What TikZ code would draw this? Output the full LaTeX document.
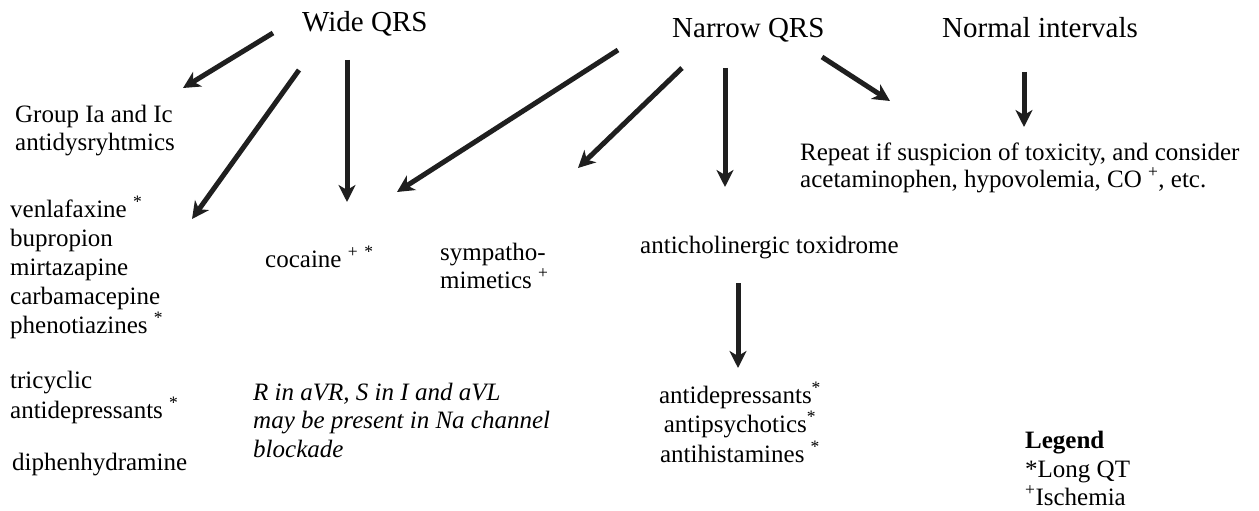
\documentclass[tikz,border=0pt]{standalone}
\usepackage{fontspec}
\setmainfont{Liberation Serif}
\usetikzlibrary{arrows.meta}
\newcommand{\lqt}{\textsuperscript{*}}
\newcommand{\isc}{\textsuperscript{+}}
\begin{document}
\begin{tikzpicture}[x=1pt,y=-1pt,
  txt/.style={font=\fontsize{25}{28}\selectfont, inner sep=0pt, anchor=base west},
  ctr/.style={font=\fontsize{25}{28}\selectfont, inner sep=0pt, anchor=base},
  hdr/.style={font=\fontsize{29}{32}\selectfont, inner sep=0pt, anchor=base west},
  itl/.style={font=\fontsize{25}{28}\selectfont\itshape, inner sep=0pt, anchor=base west},
  bld/.style={font=\fontsize{25}{28}\selectfont\bfseries, inner sep=0pt, anchor=base west},
  arr/.style={line width=5pt, draw=black!88, -{Stealth[length=17pt,width=17pt,inset=5pt]}}]
\useasboundingbox (0,0) rectangle (1259,511);
% headers
\node[hdr] (wide) at (302,32) {Wide QRS};
\node[hdr] (narrow) at (672,38) {Narrow QRS};
\node[hdr,anchor=base] (normal) at (1040,38) {Normal intervals};
% left column
\node[txt] (g1) at (15,122) {Group Ia and Ic};
\node[txt] (g2) at (15,150) {antidysryhtmics};
\node[txt] (v1) at (10,217) {venlafaxine \lqt};
\node[txt] (v2) at (10,246) {bupropion};
\node[txt] (v3) at (10,275) {mirtazapine};
\node[txt] (v4) at (10,304) {carbamacepine};
\node[txt] (v5) at (10,333) {phenotiazines \lqt};
\node[txt] (t1) at (10,388) {tricyclic};
\node[txt] (t2) at (10,418) {antidepressants \lqt};
\node[txt] (dph) at (12,470) {diphenhydramine};
% middle
\node[txt] (coc) at (265,267) {cocaine \isc\ \lqt};
\node[txt] (sy1) at (440,260) {sympatho-};
\node[txt] (sy2) at (440,288) {mimetics \isc};
\node[itl] (r1) at (253,400) {R in aVR, S in I and aVL};
\node[itl] (r2) at (253,428) {may be present in Na channel};
\node[itl] (r3) at (253,457) {blockade};
\node[txt] (ach) at (640,253) {anticholinergic toxidrome};
\node[ctr] (ad1) at (740,403) {antidepressants\lqt};
\node[ctr] (ad2) at (740,432) {antipsychotics\lqt};
\node[ctr] (ad3) at (740,462) {antihistamines \lqt};
% right
\node[txt] (rp1) at (800,160) {Repeat if suspicion of toxicity, and consider};
\node[txt] (rp2) at (800,187) {acetaminophen, hypovolemia, CO \isc, etc.};
\node[bld] (leg) at (1025,448) {Legend};
\node[txt] (leg1) at (1025,477) {*Long QT};
\node[txt] (leg2) at (1025,505) {\isc Ischemia};
% arrow end points
\coordinate (a1s) at (273,33);  \coordinate (a1e) at (183,88);
\coordinate (a2s) at (299,70);  \coordinate (a2e) at (192,219);
\coordinate (a3s) at (347,60);  \coordinate (a3e) at (347,202);
\coordinate (a4s) at (618,50);  \coordinate (a4e) at (397,192);
\coordinate (a5s) at (682,68);  \coordinate (a5e) at (578,168);
\coordinate (a6s) at (725,68);  \coordinate (a6e) at (725,187);
\coordinate (a7s) at (822,57);  \coordinate (a7e) at (890,101);
\coordinate (a8s) at (1024,72); \coordinate (a8e) at (1024,127);
\coordinate (a9s) at (738,283); \coordinate (a9e) at (738,368);
\foreach \i in {1,...,9} {\draw[arr] (a\i s) -- (a\i e);}
\end{tikzpicture}
\end{document}
